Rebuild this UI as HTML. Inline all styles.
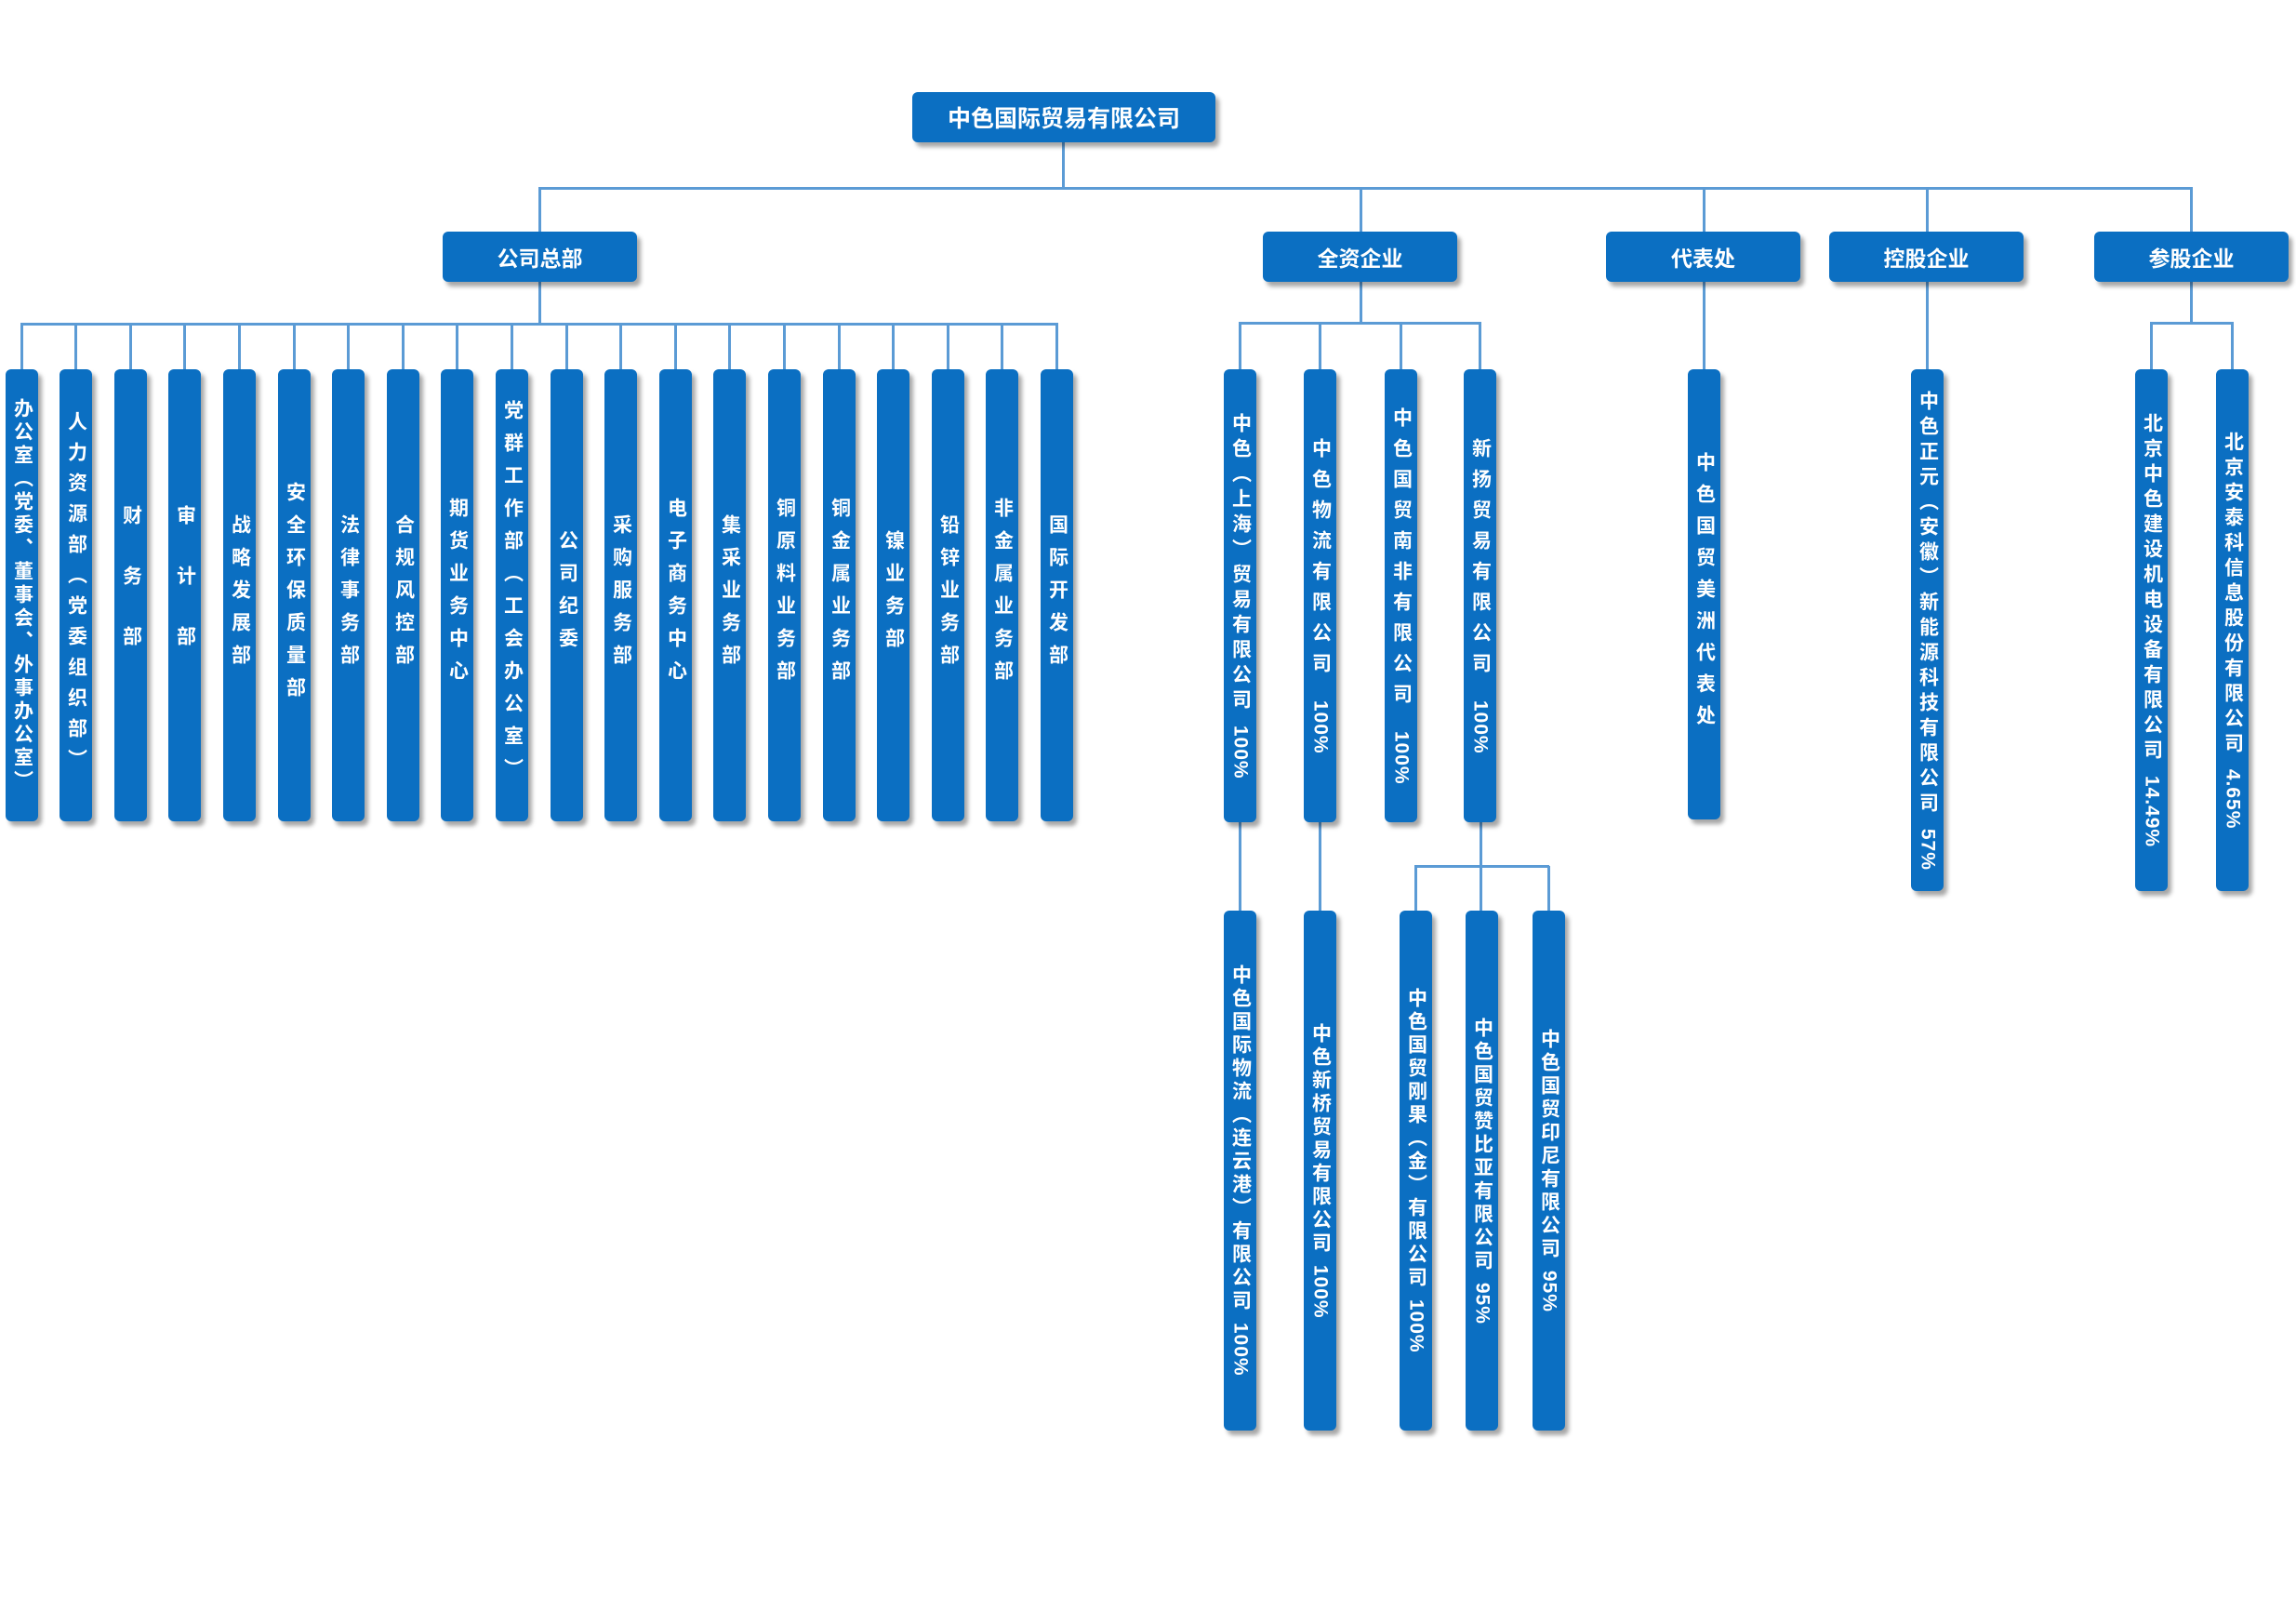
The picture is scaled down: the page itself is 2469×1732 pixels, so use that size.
<!DOCTYPE html>
<html><head><meta charset="utf-8">
<style>
body{margin:0;width:2469px;height:1732px;background:#fff;position:relative;overflow:hidden;font-family:"Liberation Sans","Noto Sans CJK SC",sans-serif;}
.l{position:absolute;background:#5b9bd5;}
.b{position:absolute;background:#0b6fc2;color:#fff;font-weight:bold;border-radius:6px;box-shadow:4px 5px 5px rgba(0,0,0,.35);display:flex;align-items:center;justify-content:center;}
.h{font-size:23px;height:54px;width:209px;top:249px;}
.v{width:35px;font-size:21px;}
.v span{writing-mode:vertical-rl;white-space:nowrap;}
.v span i{font-style:normal;letter-spacing:1px;}
</style></head><body>
<div class="l" style="left:1142px;top:152px;width:3px;height:51px"></div>
<div class="l" style="left:579px;top:201px;width:1779px;height:3px"></div>
<div class="l" style="left:579px;top:202px;width:3px;height:47px"></div>
<div class="l" style="left:1462px;top:202px;width:3px;height:47px"></div>
<div class="l" style="left:1831px;top:202px;width:3px;height:47px"></div>
<div class="l" style="left:2071px;top:202px;width:3px;height:47px"></div>
<div class="l" style="left:2355px;top:202px;width:3px;height:47px"></div>

<div class="l" style="left:579px;top:302px;width:3px;height:46px"></div>
<div class="l" style="left:22px;top:347px;width:1116px;height:3px"></div>
<div class="l" style="left:22px;top:348px;width:3px;height:49px"></div>
<div class="l" style="left:80px;top:348px;width:3px;height:49px"></div>
<div class="l" style="left:139px;top:348px;width:3px;height:49px"></div>
<div class="l" style="left:197px;top:348px;width:3px;height:49px"></div>
<div class="l" style="left:256px;top:348px;width:3px;height:49px"></div>
<div class="l" style="left:315px;top:348px;width:3px;height:49px"></div>
<div class="l" style="left:373px;top:348px;width:3px;height:49px"></div>
<div class="l" style="left:432px;top:348px;width:3px;height:49px"></div>
<div class="l" style="left:490px;top:348px;width:3px;height:49px"></div>
<div class="l" style="left:549px;top:348px;width:3px;height:49px"></div>
<div class="l" style="left:608px;top:348px;width:3px;height:49px"></div>
<div class="l" style="left:666px;top:348px;width:3px;height:49px"></div>
<div class="l" style="left:725px;top:348px;width:3px;height:49px"></div>
<div class="l" style="left:783px;top:348px;width:3px;height:49px"></div>
<div class="l" style="left:842px;top:348px;width:3px;height:49px"></div>
<div class="l" style="left:901px;top:348px;width:3px;height:49px"></div>
<div class="l" style="left:959px;top:348px;width:3px;height:49px"></div>
<div class="l" style="left:1018px;top:348px;width:3px;height:49px"></div>
<div class="l" style="left:1076px;top:348px;width:3px;height:49px"></div>
<div class="l" style="left:1135px;top:348px;width:3px;height:49px"></div>

<div class="l" style="left:1462px;top:303px;width:3px;height:44px"></div>
<div class="l" style="left:1332px;top:346px;width:261px;height:3px"></div>
<div class="l" style="left:1332px;top:347px;width:3px;height:50px"></div>
<div class="l" style="left:1418px;top:347px;width:3px;height:50px"></div>
<div class="l" style="left:1505px;top:347px;width:3px;height:50px"></div>
<div class="l" style="left:1590px;top:347px;width:3px;height:50px"></div>
<div class="l" style="left:1831px;top:303px;width:3px;height:94px"></div>
<div class="l" style="left:2071px;top:303px;width:3px;height:94px"></div>
<div class="l" style="left:2355px;top:303px;width:3px;height:44px"></div>
<div class="l" style="left:2312px;top:346px;width:90px;height:3px"></div>
<div class="l" style="left:2312px;top:347px;width:3px;height:50px"></div>
<div class="l" style="left:2399px;top:347px;width:3px;height:50px"></div>

<div class="l" style="left:1332px;top:884px;width:3px;height:95px"></div>
<div class="l" style="left:1418px;top:884px;width:3px;height:95px"></div>
<div class="l" style="left:1591px;top:884px;width:3px;height:48px"></div>
<div class="l" style="left:1521px;top:930px;width:145px;height:3px"></div>
<div class="l" style="left:1521px;top:931px;width:3px;height:48px"></div>
<div class="l" style="left:1591px;top:931px;width:3px;height:48px"></div>
<div class="l" style="left:1664px;top:931px;width:3px;height:48px"></div>

<div class="b" style="left:981px;top:99px;width:326px;height:54px;font-size:25px">中色国际贸易有限公司</div>
<div class="b h" style="left:476px">公司总部</div>
<div class="b h" style="left:1358px">全资企业</div>
<div class="b h" style="left:1727px">代表处</div>
<div class="b h" style="left:1967px">控股企业</div>
<div class="b h" style="left:2252px">参股企业</div>

<div class="b v" style="left:6px;top:397px;height:486px"><span style="letter-spacing:4px">办公室（党委、董事会、外事办公室）</span></div>
<div class="b v" style="left:64px;top:397px;height:486px"><span style="letter-spacing:12px">人力资源部（党委组织部）</span></div>
<div class="b v" style="left:123px;top:397px;height:486px"><span style="letter-spacing:44px">财务部</span></div>
<div class="b v" style="left:181px;top:397px;height:486px"><span style="letter-spacing:44px">审计部</span></div>
<div class="b v" style="left:240px;top:397px;height:486px"><span style="letter-spacing:14px">战略发展部</span></div>
<div class="b v" style="left:299px;top:397px;height:486px"><span style="letter-spacing:14px">安全环保质量部</span></div>
<div class="b v" style="left:357px;top:397px;height:486px"><span style="letter-spacing:14px">法律事务部</span></div>
<div class="b v" style="left:416px;top:397px;height:486px"><span style="letter-spacing:14px">合规风控部</span></div>
<div class="b v" style="left:474px;top:397px;height:486px"><span style="letter-spacing:14px">期货业务中心</span></div>
<div class="b v" style="left:533px;top:397px;height:486px"><span style="letter-spacing:14px">党群工作部（工会办公室）</span></div>
<div class="b v" style="left:592px;top:397px;height:486px"><span style="letter-spacing:14px">公司纪委</span></div>
<div class="b v" style="left:650px;top:397px;height:486px"><span style="letter-spacing:14px">采购服务部</span></div>
<div class="b v" style="left:709px;top:397px;height:486px"><span style="letter-spacing:14px">电子商务中心</span></div>
<div class="b v" style="left:767px;top:397px;height:486px"><span style="letter-spacing:14px">集采业务部</span></div>
<div class="b v" style="left:826px;top:397px;height:486px"><span style="letter-spacing:14px">铜原料业务部</span></div>
<div class="b v" style="left:885px;top:397px;height:486px"><span style="letter-spacing:14px">铜金属业务部</span></div>
<div class="b v" style="left:943px;top:397px;height:486px"><span style="letter-spacing:14px">镍业务部</span></div>
<div class="b v" style="left:1002px;top:397px;height:486px"><span style="letter-spacing:14px">铅锌业务部</span></div>
<div class="b v" style="left:1060px;top:397px;height:486px"><span style="letter-spacing:14px">非金属业务部</span></div>
<div class="b v" style="left:1119px;top:397px;height:486px"><span style="letter-spacing:14px">国际开发部</span></div>

<div class="b v" style="left:1316px;top:397px;height:487px"><span style="letter-spacing:6px">中色（上海）贸易有限公司 <i>100%</i></span></div>
<div class="b v" style="left:1402px;top:397px;height:487px"><span style="letter-spacing:12px">中色物流有限公司 <i>100%</i></span></div>
<div class="b v" style="left:1489px;top:397px;height:487px"><span style="letter-spacing:12px">中色国贸南非有限公司 <i>100%</i></span></div>
<div class="b v" style="left:1574px;top:397px;height:487px"><span style="letter-spacing:12px">新扬贸易有限公司 <i>100%</i></span></div>
<div class="b v" style="left:1815px;top:397px;height:484px"><span style="letter-spacing:13px">中色国贸美洲代表处</span></div>
<div class="b v" style="left:2055px;top:397px;height:561px"><span style="letter-spacing:6px">中色正元（安徽）新能源科技有限公司 <i>57%</i></span></div>
<div class="b v" style="left:2296px;top:397px;height:561px"><span style="letter-spacing:6px">北京中色建设机电设备有限公司 <i>14.49%</i></span></div>
<div class="b v" style="left:2383px;top:397px;height:561px"><span style="letter-spacing:6px">北京安泰科信息股份有限公司 <i>4.65%</i></span></div>

<div class="b v" style="left:1316px;top:979px;height:559px"><span style="letter-spacing:4px">中色国际物流（连云港）有限公司 <i>100%</i></span></div>
<div class="b v" style="left:1402px;top:979px;height:559px"><span style="letter-spacing:4px">中色新桥贸易有限公司 <i>100%</i></span></div>
<div class="b v" style="left:1505px;top:979px;height:559px"><span style="letter-spacing:4px">中色国贸刚果（金）有限公司 <i>100%</i></span></div>
<div class="b v" style="left:1576px;top:979px;height:559px"><span style="letter-spacing:4px">中色国贸赞比亚有限公司 <i>95%</i></span></div>
<div class="b v" style="left:1648px;top:979px;height:559px"><span style="letter-spacing:4px">中色国贸印尼有限公司 <i>95%</i></span></div>
</body></html>
